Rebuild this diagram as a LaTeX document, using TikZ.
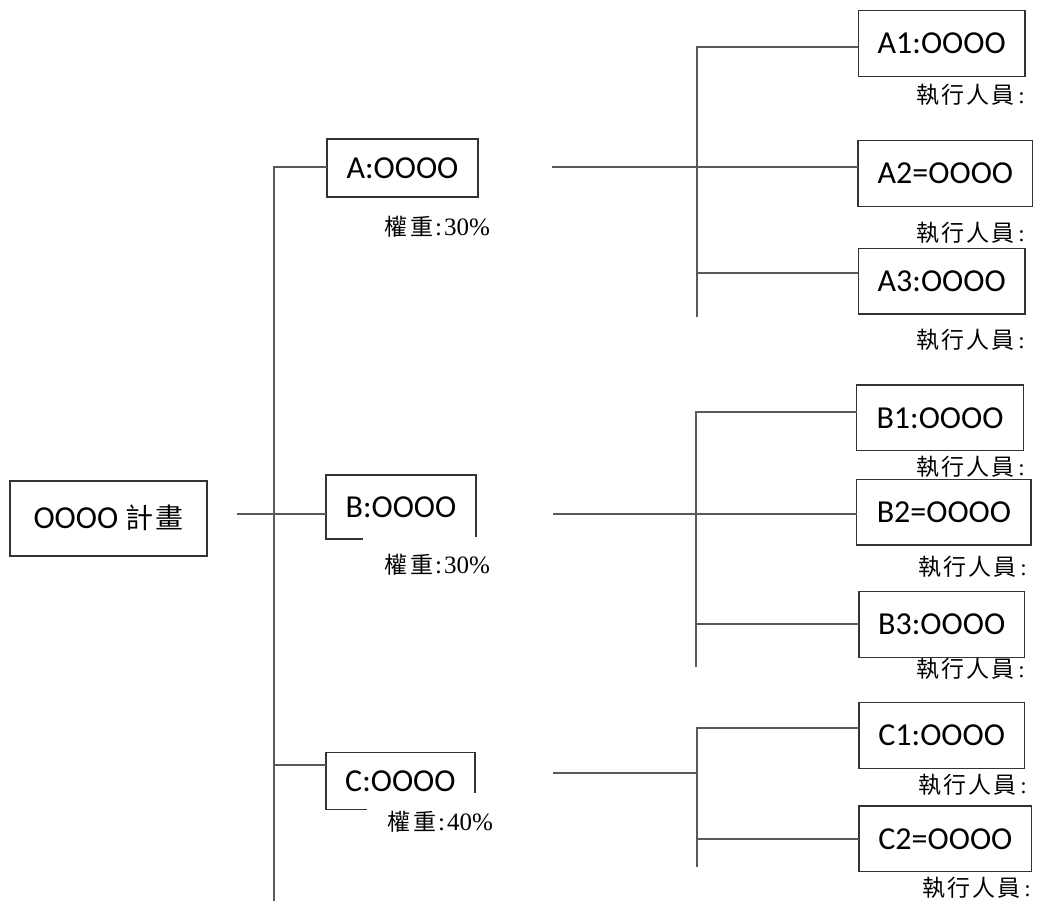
\documentclass[tikz,border=0pt]{standalone}
\usepackage{fontspec}
\setmainfont{Carlito}
\newfontfamily\cjk{Noto Sans CJK TC}
\newfontfamily\serifnum{Liberation Serif}
\begin{document}
\begin{tikzpicture}[x=1pt,y=-1pt,
  conn/.style={draw=black!65,line width=1.2pt},
  nbox/.style={draw=black!80,line width=1.2pt,fill=white,inner sep=0pt,outer sep=0pt,
    font=\fontsize{32}{36}\selectfont},
  openbox/.style={draw=none,inner sep=0pt,outer sep=0pt,font=\fontsize{32}{36}\selectfont},
  edgeline/.style={draw=black!80,line width=1.2pt},
  wlbl/.style={anchor=west,inner sep=0pt,font=\fontsize{23}{26}\selectfont},
  plbl/.style={anchor=east,inner sep=0pt,font=\fontsize{23}{26}\selectfont}]
\useasboundingbox (0,0) rectangle (1041,901);

% labels drawn first (so boxes may overlap them)
\newcommand{\weightlbl}[1]{{\cjk 權\hspace{3pt}重}\hspace{2pt}{\serifnum\fontsize{25}{28}\selectfont :\hspace{2pt}#1\%}}
\newcommand{\staff}{{\cjk 執\hspace{2pt}行\hspace{2pt}人\hspace{2pt}員}\hspace{4pt}{\serifnum :}}
\node[plbl] (lA1) at (1025,95) {\staff};
\node[plbl] (lA2) at (1025,233) {\staff};
\node[plbl] (lA3) at (1025,340) {\staff};
\node[plbl] (lB1) at (1025,467) {\staff};
\node[plbl] (lB2) at (1027,567) {\staff};
\node[plbl] (lB3) at (1025,669) {\staff};
\node[plbl] (lC1) at (1027,785) {\staff};
\node[plbl] (lC2) at (1031,888) {\staff};
\node[wlbl] (wA) at (384,227) {\weightlbl{30}};
\node[wlbl] (wB) at (384,565) {\weightlbl{30}};
\node[wlbl] (wC) at (387,822) {\weightlbl{40}};

% boxes
\node[nbox,minimum width=197pt,minimum height=75pt] (root) at (108.5,518.5) {\raisebox{4pt}{OOOO {\cjk\fontsize{28}{32}\selectfont 計\hspace{2pt}畫}}\hspace{4pt}};
\node[nbox,minimum width=151pt,minimum height=58pt] (A) at (402.5,168) {A:OOOO};
\node[openbox,minimum width=150pt,minimum height=64pt] (B) at (401,507) {B:OOOO};
\node[openbox,minimum width=149pt,minimum height=57pt] (C) at (400.4,780.8) {C:OOOO};
\node[nbox,minimum width=166.7pt,minimum height=66pt] (A1) at (941.7,43.7) {A1:OOOO};
\node[nbox,minimum width=174.7pt,minimum height=66pt] (A2) at (945.4,173.7) {A2=OOOO};
\node[nbox,minimum width=166.7pt,minimum height=65.7pt] (A3) at (941.7,281.2) {A3:OOOO};
\node[nbox,minimum width=166.7pt,minimum height=65.7pt] (B1) at (940,417.9) {B1:OOOO};
\node[nbox,minimum width=174.3pt,minimum height=65.7pt] (B2) at (943.9,512.2) {B2=OOOO};
\node[nbox,minimum width=165.3pt,minimum height=65.6pt] (B3) at (941.7,624.5) {B3:OOOO};
\node[nbox,minimum width=165.3pt,minimum height=65.6pt] (C1) at (941.7,735.5) {C1:OOOO};
\node[nbox,minimum width=172.7pt,minimum height=65.7pt] (C2) at (945.4,838.9) {C2=OOOO};

% partial borders of B and C
\draw[edgeline] ([xshift=37pt]B.south west) -- (B.south west) -- (B.north west) -- (B.north east) -- ([yshift=2.5pt]B.south east);
\draw[edgeline] ([xshift=41pt]C.south west) -- (C.south west) -- (C.north west) -- (C.north east) -- ([yshift=16pt]C.south east);

% coordinates
\coordinate (r0) at (237,514);
\coordinate (tT) at (274,167);
\coordinate (tB) at (274,901);
\coordinate (tC) at (274,765);
\coordinate (aL) at (552,167);
\coordinate (aT) at (697,47);
\coordinate (aB) at (697,317);
\coordinate (a3) at (697,273);
\coordinate (bL) at (553,514);
\coordinate (bT) at (696,412);
\coordinate (bB) at (696,667);
\coordinate (b3) at (696,624);
\coordinate (cL) at (553,773);
\coordinate (cT) at (697,728);
\coordinate (cB) at (697,867);
\coordinate (c2) at (697,839);

% connectors
\draw[conn] (r0) -- (r0 -| B.west);
\draw[conn] (tB) -- (tT) -- (tT -| A.west);
\draw[conn] (tC) -- (tC -| C.west);
\draw[conn] (aL) -- (aL -| A2.west);
\draw[conn] (aB) -- (aT) -- (aT -| A1.west);
\draw[conn] (a3) -- (a3 -| A3.west);
\draw[conn] (bL) -- (bL -| B2.west);
\draw[conn] (bB) -- (bT) -- (bT -| B1.west);
\draw[conn] (b3) -- (b3 -| B3.west);
\draw[conn] (cL) -- (cL -| cT);
\draw[conn] (cB) -- (cT) -- (cT -| C1.west);
\draw[conn] (c2) -- (c2 -| C2.west);
\end{tikzpicture}
\end{document}
